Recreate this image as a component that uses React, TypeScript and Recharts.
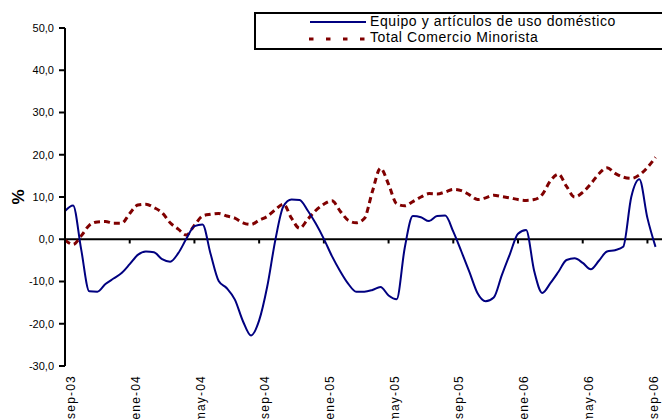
import React from "react";
import { LineChart, Line, XAxis, YAxis, ReferenceLine, Label } from "recharts";

// months since sep-03, sampled every half month
const periods = [
  0, 0.5, 1, 1.5, 2, 2.5, 3, 3.5, 4, 4.5, 5, 5.5, 6, 6.5, 7, 7.5, 8, 8.5, 9, 9.5,
  10, 10.5, 11, 11.5, 12, 12.5, 13, 13.5, 14, 14.5, 15, 15.5, 16, 16.5, 17, 17.5,
  18, 18.5, 19, 19.5, 20, 20.5, 21, 21.5, 22, 22.5, 23, 23.5, 24, 24.5, 25, 25.5,
  26, 26.5, 27, 27.5, 28, 28.5, 29, 29.5, 30, 30.5, 31, 31.5, 32, 32.5, 33, 33.5,
  34, 34.5, 35, 35.5, 36, 36.5,
];

const monthTicks = [0, 4, 8, 12, 16, 20, 24, 28, 32, 36];
const monthLabels = [
  "sep-03", "ene-04", "may-04", "sep-04", "ene-05",
  "may-05", "sep-05", "ene-06", "may-06", "sep-06",
];
const yTicks = [-30, -20, -10, 0, 10, 20, 30, 40, 50];

const equipo = [
  6.7, 8.0, -2.4, -12.3, -12.4, -10.6, -9.3, -8.0, -5.9, -3.7, -2.9, -3.1, -4.7, -5.3,
  -3.3, 0.1, 3.1, 3.5, -3.5, -9.9, -11.6, -14.3, -19.4, -22.8, -19.2, -11.2, -0.2, 7.8,
  9.4, 9.3, 6.8, 3.7, 0.1, -4.0, -7.5, -10.5, -12.4, -12.4, -12.0, -11.3, -13.3, -14.2,
  -2.0, 5.5, 5.2, 4.3, 5.5, 5.6, 1.8, -2.9, -7.8, -12.8, -14.7, -13.8, -8.5, -3.5,
  1.3, 2.2, -7.5, -12.7, -10.4, -7.7, -4.9, -4.5, -5.6, -7.1, -5.1, -2.9, -2.6, -1.8,
  10.0, 14.2, 5.0, -1.8,
];

const totalComercio = [
  -0.2, -1.2, 0.8, 3.3, 4.1, 4.2, 3.8, 3.8, 6.1, 8.1, 8.3, 7.5, 6.3, 3.9, 2.4, 1.0,
  3.3, 5.5, 5.9, 6.1, 5.5, 5.0, 3.9, 3.5, 4.5, 5.4, 7.0, 8.3, 5.0, 2.6, 4.7, 6.8,
  8.3, 9.1, 6.7, 4.5, 3.9, 4.9, 11.3, 16.8, 13.0, 8.4, 7.9, 8.9, 10.0, 10.8, 10.7,
  11.2, 11.8, 11.5, 10.5, 9.4, 9.8, 10.4, 10.1, 9.8, 9.4, 9.2, 9.4, 10.6, 13.8, 15.4,
  12.5, 10.0, 11.1, 13.1, 15.5, 16.9, 15.6, 14.7, 14.4, 15.2, 17.0, 19.4,
];

const data = periods.map((m, i) => ({
  m,
  equipo: equipo[i],
  total: totalComercio[i],
}));

const MonthTick = ({ x, y, payload }: any) => {
  const idx = monthTicks.indexOf(payload.value);
  return (
    <text
      transform={`translate(${x + 6},${y}) rotate(-90)`}
      textAnchor="end"
      dy="0.35em"
      fontSize={12}
      letterSpacing={1.2}
      fill="#000"
    >
      {monthLabels[idx]}
    </text>
  );
};

const PercentLabel = (props: any) => {
  const vb = props.viewBox || {};
  const cy = vb.height ? vb.y + vb.height / 2 : 197;
  return (
    <text
      transform={`translate(18,${cy}) rotate(-90)`}
      textAnchor="middle"
      dy="0.35em"
      fontSize={17}
      fontWeight="bold"
      fill="#000"
    >
      %
    </text>
  );
};

const legendText: React.CSSProperties = {
  position: "absolute",
  left: 370,
  fontSize: 14,
  lineHeight: "16px",
  letterSpacing: 0.6,
  color: "#000",
  whiteSpace: "nowrap",
};

export default function App() {
  return (
    <div
      style={{
        position: "absolute",
        left: 0,
        top: 0,
        width: 662,
        height: 419,
        overflow: "hidden",
        background: "#fff",
        fontFamily: '"Liberation Sans", Arial, sans-serif',
      }}
    >
      <LineChart
        width={662}
        height={419}
        data={data}
        margin={{ top: 28, right: 0, bottom: 0, left: 0 }}
      >
        <XAxis
          dataKey="m"
          type="number"
          domain={[0, 36.9]}
          ticks={monthTicks}
          interval={0}
          height={53}
          axisLine={false}
          tickLine={false}
          tickSize={0}
          tickMargin={9}
          tick={<MonthTick />}
        />
        <YAxis
          domain={[-30, 50]}
          ticks={yTicks}
          interval={0}
          width={65}
          tickFormatter={(v: number) => v.toFixed(1).replace(".", ",")}
          tick={{ fontSize: 11, fill: "#000" }}
          tickSize={6}
          tickMargin={5}
          axisLine={{ stroke: "#000", strokeWidth: 2 }}
          tickLine={{ stroke: "#000", strokeWidth: 2 }}
        >
          <Label content={PercentLabel} />
        </YAxis>
        <ReferenceLine y={0} stroke="#000" strokeWidth={2} />
        {monthTicks.slice(1).map((t) => (
          <ReferenceLine
            key={t}
            segment={[
              { x: t, y: 0 },
              { x: t, y: -1 },
            ]}
            stroke="#000"
            strokeWidth={2}
          />
        ))}
        <Line
          type="monotone"
          dataKey="total"
          stroke="#800000"
          strokeWidth={3}
          strokeDasharray="6 4"
          dot={false}
          isAnimationActive={false}
        />
        <Line
          type="monotone"
          dataKey="equipo"
          stroke="#000080"
          strokeWidth={2}
          dot={false}
          isAnimationActive={false}
        />
      </LineChart>

      {/* legend box, runs off the right edge like the original */}
      <div
        style={{
          position: "absolute",
          left: 254,
          top: 12,
          width: 420,
          height: 38,
          border: "2px solid #000",
          boxSizing: "border-box",
          background: "#fff",
        }}
      />
      <svg style={{ position: "absolute", left: 310, top: 20 }} width={56} height={4}>
        <line x1={0} y1={2} x2={56} y2={2} stroke="#000080" strokeWidth={2} />
      </svg>
      <svg style={{ position: "absolute", left: 309, top: 37 }} width={56} height={4}>
        <line
          x1={0}
          y1={2}
          x2={56}
          y2={2}
          stroke="#800000"
          strokeWidth={3}
          strokeDasharray="4.5 12.5"
        />
      </svg>
      <div style={{ ...legendText, top: 13 }}>Equipo y artículos de uso doméstico</div>
      <div style={{ ...legendText, top: 29 }}>Total Comercio Minorista</div>
    </div>
  );
}
